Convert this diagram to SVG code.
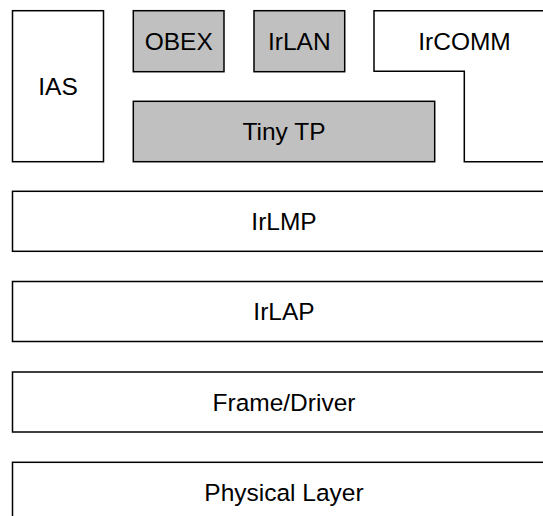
<svg xmlns="http://www.w3.org/2000/svg" width="543" height="516" viewBox="0 0 543 516">
<style>
.b{fill:#fff;stroke:#000;stroke-width:1.5}
.g{fill:#c0c0c0;stroke:#000;stroke-width:1.5}
text{font-family:"Liberation Sans",Arial,sans-serif;font-size:24.5px;fill:#000;text-anchor:middle}
</style>
<rect width="543" height="516" fill="#fff"/>
<g id="ias"><rect class="b" x="12.5" y="10.7" width="91" height="151"/><text x="58" y="94.5">IAS</text></g>
<g id="obex"><rect class="g" x="133.3" y="10.7" width="90.7" height="61"/><text x="178.7" y="49.5">OBEX</text></g>
<g id="irlan"><rect class="g" x="254" y="10.7" width="90.7" height="61"/><text x="299.3" y="49.5">IrLAN</text></g>
<g id="ircomm"><path class="b" d="M374,10.7 H560 V161.7 H464.3 V71.3 H374 Z"/><text x="464.5" y="49.5">IrCOMM</text></g>
<g id="tinytp"><rect class="g" x="133.3" y="101.3" width="301.4" height="60.4"/><text x="284" y="140">Tiny TP</text></g>
<g id="irlmp"><rect class="b" x="12.5" y="191.3" width="545" height="60"/><text x="284" y="230">IrLMP</text></g>
<g id="irlap"><rect class="b" x="12.5" y="281.5" width="545" height="60"/><text x="284" y="320">IrLAP</text></g>
<g id="frame"><rect class="b" x="12.5" y="372" width="545" height="60"/><text x="284" y="410.5">Frame/Driver</text></g>
<g id="physical"><rect class="b" x="12.5" y="462.3" width="545" height="60"/><text x="284" y="500.5">Physical Layer</text></g>
<g id="connectors"></g>
</svg>
